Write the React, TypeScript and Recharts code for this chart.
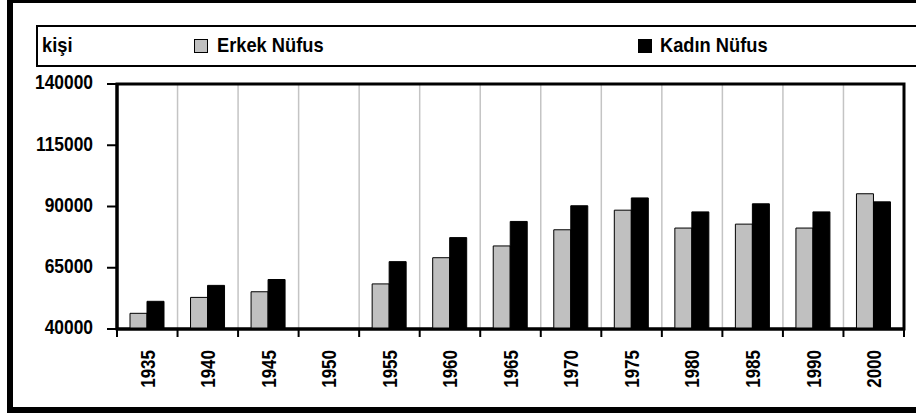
import { BarChart, Bar, XAxis, YAxis, CartesianGrid, ReferenceArea } from "recharts";

const YEARS = ["1935", "1940", "1945", "1950", "1955", "1960", "1965", "1970", "1975", "1980", "1985", "1990", "2000"];
const ERKEK = [46400, 52900, 55200, null, 58400, 69100, 73900, 80500, 88500, 81200, 82800, 81200, 95200];
const KADIN = [51300, 57800, 60200, null, 67500, 77300, 83900, 90300, 93500, 87800, 91100, 87800, 91900];
const Y_TICKS = [40000, 65000, 90000, 115000, 140000];

const data = YEARS.map((year, i) => ({ year, erkek: ERKEK[i], kadin: KADIN[i] }));

const W = 916;
const H = 414;
const PLOT_LEFT = 117;
const PLOT_RIGHT = 904;
const BAND = (PLOT_RIGHT - PLOT_LEFT) / YEARS.length;
const FONT = "'Liberation Sans', Arial, sans-serif";
const NARROW = 0.87; // the original uses a condensed bold face

function YearTick(props: any) {
  const { x, y, payload, index } = props;
  const last = index === YEARS.length - 1;
  return (
    <g>
      <line x1={x - BAND / 2} x2={x - BAND / 2} y1={y - 8} y2={y} stroke="#000" strokeWidth={2} />
      {last && <line x1={x + BAND / 2} x2={x + BAND / 2} y1={y - 8} y2={y} stroke="#000" strokeWidth={2} />}
      <text
        transform={`translate(${x}, ${y + 13}) rotate(-90) scale(0.81, 1)`}
        dy="0.35em"
        textAnchor="end"
        fontSize={21}
        fontWeight={700}
        fill="#000"
        fontFamily={FONT}
      >
        {payload.value}
      </text>
    </g>
  );
}

function ValueTick(props: any) {
  const { x, y, payload } = props;
  return (
    <text
      transform={`translate(${x}, ${y}) scale(${NARROW}, 1)`}
      dy="0.27em"
      textAnchor="end"
      fontSize={20}
      fontWeight={700}
      fill="#000"
      fontFamily={FONT}
    >
      {payload.value}
    </text>
  );
}

const legendText = { position: "absolute" as const, top: 7, transform: `scaleX(${NARROW})`, transformOrigin: "left center", whiteSpace: "nowrap" as const };

export default function App() {
  const gridX = ({ offset }: any) =>
    YEARS.slice(1).map((_, i) => offset.left + ((i + 1) * offset.width) / YEARS.length);

  return (
    <div style={{ position: "absolute", left: 0, top: 0, width: W, height: H, overflow: "hidden", background: "#fff", fontFamily: FONT }}>
      <BarChart width={W} height={H} data={data} barGap={0} margin={{ top: 84, right: W - PLOT_RIGHT, bottom: 0, left: 0 }}>
        <CartesianGrid horizontal={false} verticalCoordinatesGenerator={gridX} stroke="#c4c4c4" strokeWidth={1.5} />
        <XAxis
          dataKey="year"
          height={85}
          interval={0}
          tickLine={false}
          tickSize={8}
          tickMargin={0}
          tick={<YearTick />}
          axisLine={{ stroke: "#000", strokeWidth: 3 }}
        />
        <YAxis
          width={PLOT_LEFT}
          domain={[40000, 140000]}
          ticks={Y_TICKS}
          interval={0}
          tickSize={10}
          tickMargin={14}
          tickLine={{ stroke: "#000", strokeWidth: 2 }}
          axisLine={{ stroke: "#000", strokeWidth: 3 }}
          tick={<ValueTick />}
        />
        <Bar dataKey="erkek" name="Erkek Nüfus" fill="#c0c0c0" stroke="#000" strokeWidth={1} barSize={17} isAnimationActive={false} />
        <Bar dataKey="kadin" name="Kadın Nüfus" fill="#000" stroke="#000" strokeWidth={1} barSize={17} isAnimationActive={false} />
        {/* plot area frame */}
        <ReferenceArea y1={40000} y2={140000} fill="none" stroke="#000" strokeWidth={3} ifOverflow="visible" />
      </BarChart>

      {/* legend strip with the unit label */}
      <div style={{ position: "absolute", left: 36, top: 25, width: 920, height: 42, border: "2px solid #000", boxSizing: "border-box", fontSize: 21, fontWeight: 700, color: "#000", lineHeight: "21px" }}>
        <span style={{ ...legendText, left: 4 }}>kişi</span>
        <span style={{ position: "absolute", left: 156, top: 12, width: 14, height: 14, background: "#c0c0c0", border: "1px solid #000", boxSizing: "border-box" }} />
        <span style={{ ...legendText, left: 179 }}>Erkek Nüfus</span>
        <span style={{ position: "absolute", left: 600, top: 12, width: 14, height: 14, background: "#000" }} />
        <span style={{ ...legendText, left: 622 }}>Kadın Nüfus</span>
      </div>

      {/* outer frame */}
      <div style={{ position: "absolute", left: 7, top: -3, width: 930, height: 416, border: "6px solid #000", boxSizing: "border-box" }} />
    </div>
  );
}
